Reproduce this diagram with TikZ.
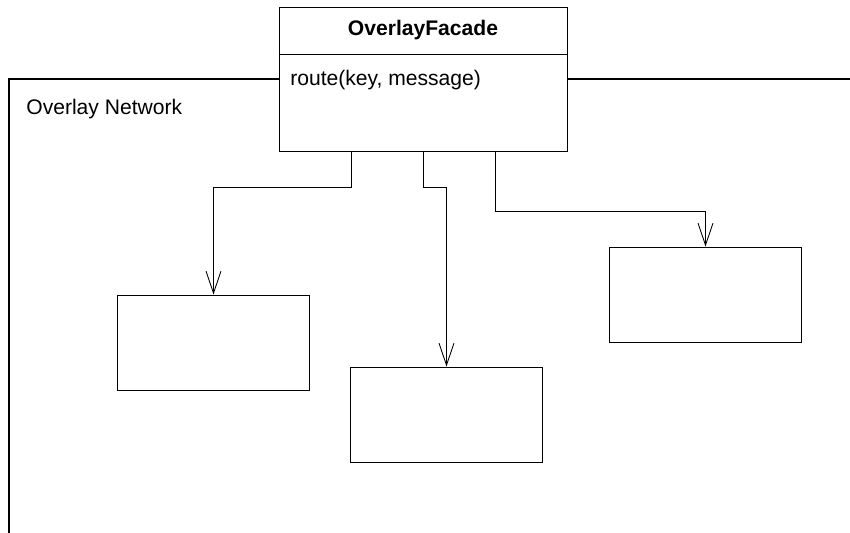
\documentclass[tikz,border=0pt]{standalone}
\usepackage{fontspec}
\setmainfont{Liberation Sans}
\usetikzlibrary{arrows.meta,positioning,calc}

\begin{document}
\begin{tikzpicture}[x=0.02cm, y=-0.02cm, font=\fontsize{12}{14}\selectfont,
    box/.style={draw, line width=0.5pt, minimum width=3.84cm, minimum height=1.9cm},
    link/.style={line width=0.5pt, -{Straight Barb[length=12.5pt, width=8.5pt]}}]
    \useasboundingbox (0,0) rectangle (850,533);
    % facade class
    \node[draw, line width=0.5pt, minimum width=5.76cm, minimum height=2.88cm] (facade) at (423,79) {};
    \node[font=\fontsize{12}{14}\selectfont\bfseries, anchor=base] (title) at (423,36) {OverlayFacade};
    \draw[line width=0.5pt] ($(facade.north west)+(0,48)$) -- ($(facade.north east)+(0,48)$);
    \node[anchor=base west, inner sep=0pt] (method) at (290,86) {route(key, message)};
    % overlay network frame
    \coordinate (frame sw) at (9,533);
    \coordinate (frame ne) at (850,79);
    \draw[line width=1.2pt] (facade.west) -| (frame sw);
    \draw[line width=1.2pt] (facade.east) -- (frame ne);
    \node[anchor=base west, inner sep=0pt] (netlabel) at (26,115) {Overlay Network};
    % nodes
    \node[box] (peer1) at (213.5,342.5) {};
    \node[box] (peer2) at (446.5,414.5) {};
    \node[box] (peer3) at (705.5,294.5) {};
    \draw[link] ($(facade.south)+(-72,0)$) -- ++(0,36) -| (peer1.north);
    \draw[link] (facade.south) -- ++(0,36) -| (peer2.north);
    \draw[link] ($(facade.south)+(72,0)$) -- ++(0,60) -| (peer3.north);
\end{tikzpicture}
\end{document}
